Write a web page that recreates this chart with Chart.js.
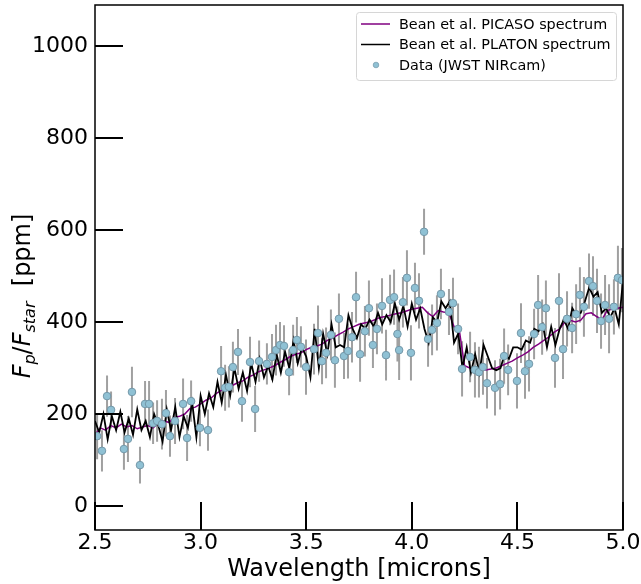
<!DOCTYPE html>
<html>
<head>
<meta charset="utf-8">
<script src="https://cdn.jsdelivr.net/npm/chart.js@4.4.1/dist/chart.umd.min.js"></script>
<style>
  body { margin: 0; background: #fff; }
  #wrap { width: 641px; height: 584px; }
</style>
</head>
<body>
<div id="wrap"><canvas id="spec" width="641" height="584"></canvas></div>
<script>
// JWST NIRcam points (wavelength in microns, Fp/Fstar in ppm, 1-sigma error)
const dataWl = [2.510, 2.533, 2.557, 2.576, 2.637, 2.656, 2.675, 2.713, 2.737, 2.756,
  2.775, 2.794, 2.817, 2.836, 2.855, 2.879, 2.917, 2.936, 2.955, 2.997,
  3.035, 3.097, 3.116, 3.134, 3.153, 3.177, 3.196, 3.234, 3.258, 3.277,
  3.314, 3.338, 3.357, 3.376, 3.395, 3.419, 3.438, 3.456, 3.475, 3.499,
  3.537, 3.556, 3.575, 3.594, 3.617, 3.636, 3.655, 3.679, 3.698, 3.717,
  3.736, 3.755, 3.778, 3.797, 3.816, 3.835, 3.859, 3.878, 3.897, 3.916,
  3.932, 3.940, 3.958, 3.977, 3.996, 4.015, 4.034, 4.058, 4.077, 4.096,
  4.119, 4.138, 4.176, 4.195, 4.219, 4.238, 4.276, 4.299, 4.318, 4.337,
  4.356, 4.394, 4.418, 4.437, 4.456, 4.498, 4.517, 4.536, 4.555, 4.579,
  4.598, 4.617, 4.635, 4.678, 4.697, 4.716, 4.735, 4.759, 4.778, 4.796,
  4.815, 4.839, 4.858, 4.877, 4.896, 4.915, 4.934, 4.957, 4.976, 4.995];
const dataPpm = [152, 120, 239, 209, 124, 146, 248, 89, 222, 222,
  180, 185, 178, 202, 152, 185, 222, 148, 228, 170,
  165, 293, 257, 259, 302, 335, 228, 313, 211, 315,
  309, 324, 339, 350, 348, 291, 339, 361, 346, 302,
  341, 376, 315, 333, 372, 317, 407, 326, 337, 367,
  454, 330, 380, 430, 350, 385, 435, 328, 448, 454,
  374, 339, 443, 496, 333, 474, 446, 596, 363, 383,
  398, 461, 422, 441, 385, 298, 324, 296, 291, 302,
  267, 257, 265, 326, 296, 272, 376, 293, 309, 374,
  437, 389, 430, 322, 446, 341, 407, 387, 417, 459,
  433, 489, 478, 446, 402, 437, 407, 433, 496, 491];
const dataErr = [50, 45, 45, 40, 45, 50, 55, 40, 50, 50,
  45, 45, 55, 50, 45, 50, 55, 50, 45, 40,
  45, 55, 50, 45, 55, 50, 45, 55, 50, 45,
  45, 50, 55, 50, 45, 50, 55, 50, 45, 60,
  55, 60, 50, 55, 55, 60, 55, 50, 60, 55,
  55, 60, 55, 60, 50, 55, 60, 55, 55, 60,
  60, 65, 55, 60, 60, 55, 60, 50, 60, 55,
  60, 55, 50, 55, 55, 60, 55, 60, 55, 60,
  55, 60, 55, 60, 55, 60, 65, 60, 60, 55,
  65, 60, 60, 65, 60, 65, 60, 55, 65, 60,
  65, 60, 65, 70, 60, 65, 75, 60, 70, 70];

// Bean et al. PICASO model
const picasoWl = [2.500, 2.525, 2.550, 2.575, 2.600, 2.625, 2.650, 2.675, 2.700, 2.725,
  2.750, 2.775, 2.800, 2.825, 2.850, 2.875, 2.900, 2.925, 2.950, 2.975,
  3.000, 3.025, 3.050, 3.075, 3.100, 3.125, 3.150, 3.175, 3.200, 3.225,
  3.250, 3.275, 3.300, 3.325, 3.350, 3.375, 3.400, 3.425, 3.450, 3.475,
  3.500, 3.525, 3.550, 3.575, 3.600, 3.625, 3.650, 3.675, 3.700, 3.725,
  3.750, 3.775, 3.800, 3.825, 3.850, 3.875, 3.900, 3.925, 3.950, 3.975,
  4.000, 4.025, 4.050, 4.075, 4.100, 4.125, 4.150, 4.175, 4.200, 4.225,
  4.250, 4.275, 4.300, 4.325, 4.350, 4.375, 4.400, 4.425, 4.450, 4.475,
  4.500, 4.525, 4.550, 4.575, 4.600, 4.625, 4.650, 4.675, 4.700, 4.725,
  4.750, 4.775, 4.800, 4.825, 4.850, 4.875, 4.900, 4.925, 4.950, 4.975, 5.000];
const picasoPpm = [155, 170, 165, 175, 170, 178, 172, 175, 168, 172,
  175, 170, 180, 185, 182, 192, 195, 200, 212, 215,
  222, 230, 235, 245, 252, 256, 262, 268, 272, 280,
  285, 292, 296, 300, 305, 312, 318, 325, 330, 333,
  340, 345, 348, 352, 360, 365, 372, 378, 385, 390,
  395, 398, 400, 405, 410, 412, 415, 418, 420, 424,
  428, 430, 432, 420, 412, 425, 422, 420, 390, 382,
  305, 300, 298, 300, 296, 298, 300, 305, 310, 315,
  322, 328, 335, 345, 352, 360, 368, 378, 385, 400,
  404, 400, 404, 418, 420, 412, 405, 425, 428, 430, 432];

// Bean et al. PLATON model
const platonWl = [2.50, 2.52, 2.54, 2.56, 2.58, 2.60, 2.62, 2.64, 2.66, 2.68,
  2.70, 2.72, 2.74, 2.76, 2.78, 2.80, 2.82, 2.84, 2.86, 2.88,
  2.90, 2.92, 2.94, 2.96, 2.98, 3.00, 3.02, 3.04, 3.06, 3.08,
  3.10, 3.12, 3.14, 3.16, 3.18, 3.20, 3.22, 3.24, 3.26, 3.28,
  3.30, 3.32, 3.34, 3.36, 3.38, 3.40, 3.42, 3.44, 3.46, 3.48,
  3.50, 3.52, 3.54, 3.56, 3.58, 3.60, 3.62, 3.64, 3.66, 3.68,
  3.70, 3.72, 3.74, 3.76, 3.78, 3.80, 3.82, 3.84, 3.86, 3.88,
  3.90, 3.92, 3.94, 3.96, 3.98, 4.00, 4.02, 4.04, 4.06, 4.08,
  4.10, 4.12, 4.14, 4.16, 4.18, 4.20, 4.22, 4.24, 4.26, 4.28,
  4.30, 4.32, 4.34, 4.36, 4.38, 4.40, 4.42, 4.44, 4.46, 4.48,
  4.50, 4.52, 4.54, 4.56, 4.58, 4.60, 4.62, 4.64, 4.66, 4.68,
  4.70, 4.72, 4.74, 4.76, 4.78, 4.80, 4.82, 4.84, 4.86, 4.88,
  4.90, 4.92, 4.94, 4.96, 4.98, 5.00];
const platonPpm = [185, 160, 200, 145, 195, 165, 205, 160, 190, 155,
  210, 165, 185, 150, 200, 175, 140, 210, 165, 215,
  150, 195, 170, 225, 150, 240, 200, 245, 215, 270,
  225, 285, 240, 300, 255, 290, 250, 310, 270, 320,
  280, 305, 275, 330, 290, 335, 300, 360, 310, 345,
  325, 280, 385, 300, 375, 330, 395, 345, 350, 345,
  415, 385, 365, 395, 385, 405, 390, 420, 395, 415,
  400, 440, 405, 435, 390, 440, 405, 430, 385, 355,
  410, 400, 445, 430, 445, 355, 375, 300, 345, 290,
  330, 290, 350, 325, 300, 295, 300, 330, 320, 345,
  345, 340, 360, 355, 385, 380, 395, 345, 390, 350,
  385, 405, 385, 430, 415, 420, 445, 475, 455, 465,
  420, 430, 410, 430, 395, 490];

const xTicks = [2.5, 3.0, 3.5, 4.0, 4.5, 5.0];
const yTicks = [0, 200, 400, 600, 800, 1000];

const FONT = "'DejaVu Sans', sans-serif";

function pairs(xs, ys) {
  return xs.map((v, i) => ({x: v, y: ys[i]}));
}

// gray error bars, behind everything
const errorBars = {
  id: 'errorBars',
  beforeDatasetsDraw(chart) {
    const {ctx, chartArea: a, scales: {x, y}} = chart;
    ctx.save();
    ctx.beginPath();
    ctx.rect(a.left, a.top, a.right - a.left, a.bottom - a.top);
    ctx.clip();
    ctx.strokeStyle = 'rgba(128,128,128,0.75)';
    ctx.lineWidth = 2;
    ctx.beginPath();
    dataWl.forEach((w, i) => {
      const px = x.getPixelForValue(w);
      ctx.moveTo(px, y.getPixelForValue(dataPpm[i] - dataErr[i]));
      ctx.lineTo(px, y.getPixelForValue(dataPpm[i] + dataErr[i]));
    });
    ctx.stroke();
    ctx.restore();
  }
};

// frame, inward ticks, legend and the y label with subscripts
const decor = {
  id: 'decor',
  afterDraw(chart) {
    const {ctx, chartArea: a, scales: {x, y}} = chart;
    ctx.save();
    ctx.strokeStyle = '#000';
    ctx.lineWidth = 1.5;
    ctx.strokeRect(a.left, a.top, a.right - a.left, a.bottom - a.top);

    ctx.lineWidth = 2;
    ctx.beginPath();
    yTicks.forEach(v => {
      const py = Math.round(y.getPixelForValue(v));
      ctx.moveTo(a.left, py);
      ctx.lineTo(a.left + 28, py);
    });
    xTicks.forEach(v => {
      const px = Math.round(x.getPixelForValue(v));
      ctx.moveTo(px, a.bottom);
      ctx.lineTo(px, a.bottom - 28);
    });
    ctx.stroke();

    // legend box
    const bx = 356, by = 12, bw = 260, bh = 68;
    ctx.fillStyle = 'rgba(255,255,255,0.8)';
    ctx.strokeStyle = '#d6d6d6';
    ctx.lineWidth = 1;
    ctx.beginPath();
    ctx.roundRect(bx + 0.5, by + 0.5, bw, bh, 3);
    ctx.fill();
    ctx.stroke();

    ctx.font = '14.4px ' + FONT;
    ctx.textBaseline = 'middle';
    ctx.fillStyle = '#000';
    const rows = [
      {label: 'Bean et al. PICASO spectrum', color: '#800080', width: 1.5},
      {label: 'Bean et al. PLATON spectrum', color: '#000000', width: 1.5},
      {label: 'Data (JWST NIRcam)'}
    ];
    rows.forEach((r, i) => {
      const ry = by + 12 + i * 20.5;
      if (r.color) {
        ctx.strokeStyle = r.color;
        ctx.lineWidth = r.width;
        ctx.beginPath();
        ctx.moveTo(bx + 5, ry);
        ctx.lineTo(bx + 34, ry);
        ctx.stroke();
      } else {
        ctx.fillStyle = '#8fc1d4';
        ctx.strokeStyle = '#7b9fb0';
        ctx.lineWidth = 0.8;
        ctx.beginPath();
        ctx.arc(bx + 20, ry, 2.8, 0, Math.PI * 2);
        ctx.fill();
        ctx.stroke();
      }
      ctx.fillStyle = '#000';
      ctx.fillText(r.label, bx + 43, ry + 1);
    });

    // y label: F_p/F_star  [ppm]
    const parts = [
      {t: 'F', f: 'italic 24px ' + FONT, dy: 0},
      {t: 'p', f: 'italic 16px ' + FONT, dy: 5},
      {t: '/', f: '24px ' + FONT, dy: 0},
      {t: 'F', f: 'italic 24px ' + FONT, dy: 0},
      {t: 'star', f: 'italic 16px ' + FONT, dy: 5},
      {t: '  [ppm]', f: '24px ' + FONT, dy: 0}
    ];
    let total = 0;
    parts.forEach(p => { ctx.font = p.f; p.w = ctx.measureText(p.t).width; total += p.w; });
    ctx.translate(30, 296);
    ctx.rotate(-Math.PI / 2);
    ctx.textBaseline = 'alphabetic';
    ctx.textAlign = 'left';
    ctx.fillStyle = '#000';
    let cx = -total / 2;
    parts.forEach(p => {
      ctx.font = p.f;
      ctx.fillText(p.t, cx, p.dy);
      cx += p.w;
    });
    ctx.restore();
  }
};

const ctx = document.getElementById('spec');
new Chart(ctx, {
  type: 'scatter',
  data: {
    datasets: [
      {
        label: 'Data (JWST NIRcam)',
        data: pairs(dataWl, dataPpm),
        backgroundColor: '#8fc1d4',
        borderColor: '#7397a8',
        borderWidth: 1,
        pointRadius: 3.8
      },
      {
        label: 'Bean et al. PLATON spectrum',
        type: 'line',
        data: pairs(platonWl, platonPpm),
        borderColor: '#000000',
        borderWidth: 1.8,
        pointRadius: 0,
        tension: 0
      },
      {
        label: 'Bean et al. PICASO spectrum',
        type: 'line',
        data: pairs(picasoWl, picasoPpm),
        borderColor: '#800080',
        borderWidth: 1.5,
        pointRadius: 0,
        tension: 0
      }
    ]
  },
  options: {
    responsive: false,
    animation: false,
    devicePixelRatio: 1,
    layout: { padding: { top: 5, right: 18, left: 0, bottom: 0 } },
    plugins: {
      legend: { display: false },
      tooltip: { enabled: false }
    },
    scales: {
      x: {
        type: 'linear',
        min: 2.5,
        max: 5.0,
        afterBuildTicks: s => { s.ticks = xTicks.map(v => ({value: v})); },
        afterFit: s => { s.height = 54; s.paddingLeft = 0; s.paddingRight = 0; },
        grid: { display: false, drawTicks: false },
        border: { display: false },
        ticks: {
          padding: 0,
          color: '#000',
          font: { family: FONT, size: 22 },
          callback: v => v.toFixed(1),
          maxRotation: 0
        },
        title: {
          display: true,
          text: 'Wavelength [microns]',
          color: '#000',
          font: { family: FONT, size: 24 },
          padding: { top: 0, bottom: 0 }
        }
      },
      y: {
        min: -52,
        max: 1089,
        afterBuildTicks: s => { s.ticks = yTicks.map(v => ({value: v})); },
        afterFit: s => { s.width = 95; s.paddingTop = 0; s.paddingBottom = 0; },
        grid: { display: false, drawTicks: false },
        border: { display: false },
        ticks: {
          padding: 7,
          color: '#000',
          font: { family: FONT, size: 22 },
          callback: v => String(v)
        }
      }
    }
  },
  plugins: [errorBars, decor]
});
</script>
</body>
</html>
